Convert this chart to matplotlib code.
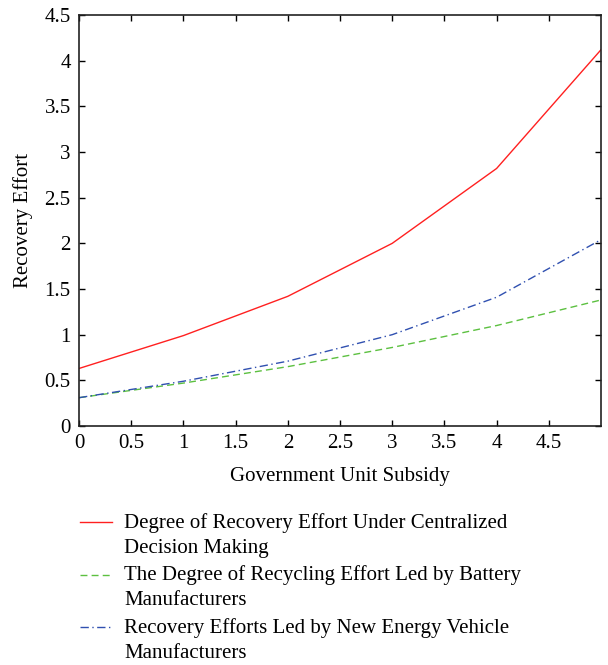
import numpy as np
import matplotlib.pyplot as plt
from matplotlib.legend_handler import HandlerLine2D

plt.rcParams['font.family'] = ['Liberation Serif', 'DejaVu Serif']

# data
subsidy = [0, 1, 2, 3, 4, 5]
centralized = [0.63, 0.99, 1.42, 2.00, 2.82, 4.12]
battery_led = [0.31, 0.47, 0.65, 0.86, 1.10, 1.38]
nev_led = [0.31, 0.49, 0.71, 1.00, 1.41, 2.04]

labels = ['Degree of Recovery Effort Under Centralized\nDecision Making',
          'The Degree of Recycling Effort Led by Battery\nManufacturers',
          'Recovery Efforts Led by New Energy Vehicle\nManufacturers']


# legend handle sitting on the first line of a two-line label
class FirstLineHandler(HandlerLine2D):
    def __init__(self, shift, **kw):
        super().__init__(**kw)
        self.shift = shift

    def create_artists(self, *args, **kw):
        arts = super().create_artists(*args, **kw)
        for a in arts:
            a.set_ydata(np.asarray(a.get_ydata()) + self.shift)
        return arts


fig = plt.figure(figsize=(6.08, 6.65), dpi=100)
ax = fig.add_axes([0.130, 0.3594, 0.8585, 0.618])

l1, = ax.plot(subsidy, centralized, color='#ff2020', lw=1.0, label=labels[0])
l2, = ax.plot(subsidy, battery_led, color='#5cc040', lw=1.0, ls=(0, (5, 3)), label=labels[1])
l3, = ax.plot(subsidy, nev_led, color='#3050b0', lw=1.0, ls=(0, (6, 2.5, 1, 2.5)), label=labels[2])

ax.set_xlim(0, 5)
ax.set_ylim(0, 4.5)
ax.set_xticks(np.arange(0, 5.0, 0.5))
ax.set_xticklabels(['0', '0.5', '1', '1.5', '2', '2.5', '3', '3.5', '4', '4.5'])
ax.set_yticks(np.arange(0, 4.6, 0.5))
ax.set_yticklabels(['0', '0.5', '1', '1.5', '2', '2.5', '3', '3.5', '4', '4.5'])
ax.tick_params(direction='in', top=True, right=True, labelsize=15, length=4, width=1, pad=6)
for s in ax.spines.values():
    s.set_linewidth(1.2)
    s.set_color('#222222')

ax.set_xlabel('Government Unit Subsidy', fontsize=15, labelpad=10)
ax.set_ylabel('Recovery Effort', fontsize=15, labelpad=8)

hm = {h: FirstLineHandler(9.3) for h in (l1, l2, l3)}
leg = fig.legend(loc='upper left', bbox_to_anchor=(0.131, 0.229), frameon=False,
                 fontsize=15, handlelength=1.55, handletextpad=0.6, labelspacing=0.35,
                 borderpad=0, borderaxespad=0, handler_map=hm)
for t in leg.get_texts():
    t.set_linespacing(1.45)

fig.savefig('out.png', dpi=100)
